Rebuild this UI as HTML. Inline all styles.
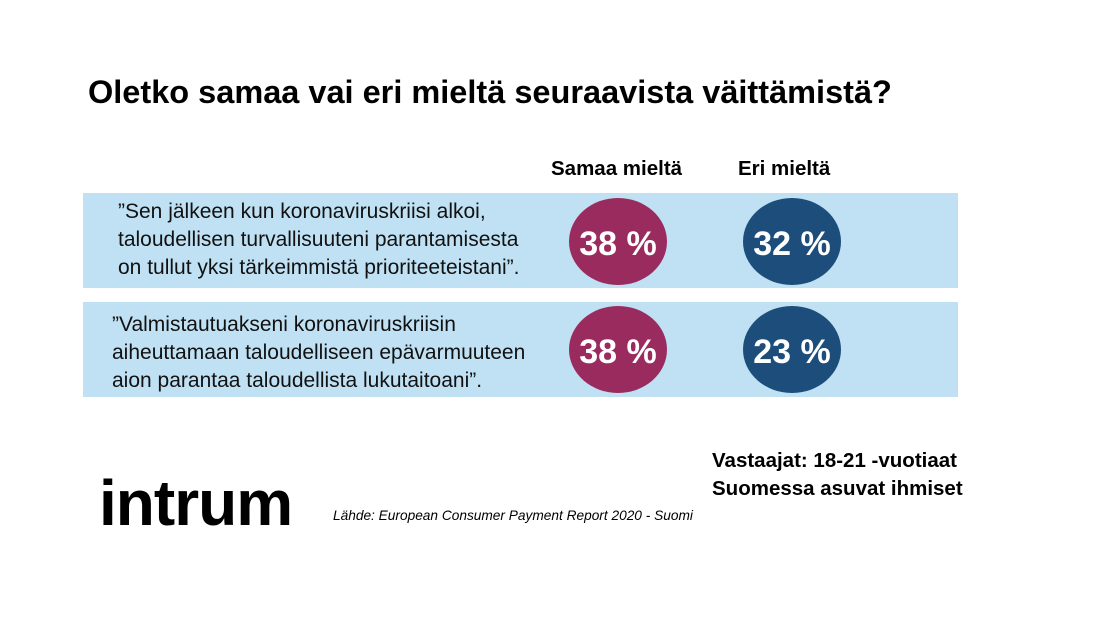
<!DOCTYPE html>
<html><head><meta charset="utf-8"><style>
body{margin:0;width:1110px;height:624px;background:#fff;position:relative;overflow:hidden;font-family:"Liberation Sans",sans-serif;color:#000}
.a{position:absolute;white-space:nowrap}
.box{position:absolute;left:83px;width:875px;background:#bfe1f3}
.q{position:absolute;left:118px;font-size:21px;line-height:28px;color:#111}
.c{position:absolute;width:98px;height:87px;border-radius:50%;color:#fff;font-weight:bold;font-size:34px;text-align:center;line-height:92px}
.m{background:#9a2b5f}.b{background:#1d4e7b}
</style></head><body>
<div class="a" style="left:88px;top:74px;font-size:32.5px;font-weight:bold">Oletko samaa vai eri mieltä seuraavista väittämistä?</div>
<div class="a" style="left:551px;top:157px;font-size:20.5px;font-weight:bold">Samaa mieltä</div>
<div class="a" style="left:738px;top:157px;font-size:20.5px;font-weight:bold">Eri mieltä</div>
<div class="box" style="top:193px;height:95px"></div>
<div class="box" style="top:302px;height:95px"></div>
<div class="q" style="top:198px">”Sen jälkeen kun koronaviruskriisi alkoi,<br>taloudellisen turvallisuuteni parantamisesta<br>on tullut yksi tärkeimmistä prioriteeteistani”.</div>
<div class="q" style="top:311px;left:112px">”Valmistautuakseni koronaviruskriisin<br>aiheuttamaan taloudelliseen epävarmuuteen<br>aion parantaa taloudellista lukutaitoani”.</div>
<div class="c m" style="left:569px;top:198px">38 %</div>
<div class="c b" style="left:743px;top:198px">32 %</div>
<div class="c m" style="left:569px;top:306px">38 %</div>
<div class="c b" style="left:743px;top:306px">23 %</div>
<div class="a" style="left:712px;top:447px;font-size:20.5px;font-weight:bold;line-height:28px">Vastaajat: 18-21 -vuotiaat<br>Suomessa asuvat ihmiset</div>
<div class="a" style="left:99px;top:466px;font-size:64px;font-weight:bold;letter-spacing:-1px">intrum</div>
<div class="a" style="left:333px;top:508px;font-size:13.7px;font-style:italic">Lähde: European Consumer Payment Report 2020 - Suomi</div>
</body></html>
